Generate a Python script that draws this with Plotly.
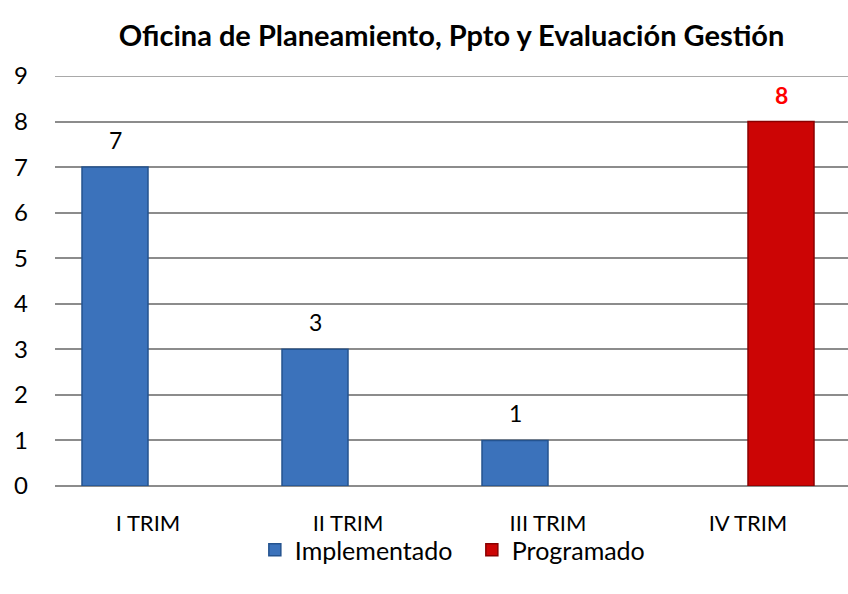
import plotly.graph_objects as go

categorias = ["I TRIM", "II TRIM", "III TRIM", "IV TRIM"]
implementado = [7, 3, 1, None]
programado = [None, None, None, 8]

FONT = "Lato, 'Open Sans', sans-serif"
GRID = "#8c8c8c"

fig = go.Figure()

fig.add_trace(go.Bar(
    x=categorias, y=implementado, name="Implementado",
    marker=dict(color="#3b72bb", line=dict(color="#24538f", width=1.5)),
    offsetgroup="a",
))
fig.add_trace(go.Bar(
    x=categorias, y=programado, name="Programado",
    marker=dict(color="#cc0505", line=dict(color="#8a0000", width=1.5)),
    offsetgroup="b",
))

# etiquetas de datos encima de cada barra
anotaciones = []
for cat, val in zip(categorias, implementado):
    if val is not None:
        anotaciones.append(dict(x=cat, y=val, text=str(val), showarrow=False,
                                xshift=-33, yshift=27, font=dict(size=23, color="#000000")))
for cat, val in zip(categorias, programado):
    if val is not None:
        anotaciones.append(dict(x=cat, y=val, text=f"<b>{val}</b>", showarrow=False,
                                xshift=33, yshift=27, font=dict(size=23, color="#ff0000")))

fig.update_layout(
    width=848, height=594,
    margin=dict(l=55, r=0, t=76, b=108, autoexpand=False),
    paper_bgcolor="white", plot_bgcolor="white",
    font=dict(family=FONT, size=22, color="#000000"),
    title=dict(text="<b>Oficina de Planeamiento, Ppto y Evaluación Gestión</b>",
               x=0.5325, xanchor="center", y=0.94, yanchor="middle",
               font=dict(size=29, family=FONT)),
    barmode="group", bargap=0.34, bargroupgap=0,
    showlegend=True,
    legend=dict(orientation="h", x=0.252, xanchor="left", y=-0.1, yanchor="top",
                font=dict(size=25), itemwidth=30, tracegroupgap=0,
                entrywidth=172, entrywidthmode="pixels",
                bgcolor="rgba(0,0,0,0)"),
    annotations=anotaciones,
    shapes=[dict(type="line", xref="paper", x0=0, x1=1, yref="y", y0=9, y1=9,
                 line=dict(color=GRID, width=1.5), layer="below")],
)

fig.update_xaxes(
    type="category", range=[-0.465, 3.5],
    showgrid=False, showline=False, ticks="",
    tickfont=dict(size=22), ticklabelstandoff=22,
)
fig.update_yaxes(
    range=[0, 9], dtick=1,
    showgrid=True, gridcolor=GRID, gridwidth=1.5,
    zeroline=True, zerolinecolor=GRID, zerolinewidth=2,
    showline=False, ticks="", tickfont=dict(size=24), ticklabelstandoff=26,
)

fig.write_html("out.html", config={"displayModeBar": False},
               post_script="document.body.style.margin='0';")
